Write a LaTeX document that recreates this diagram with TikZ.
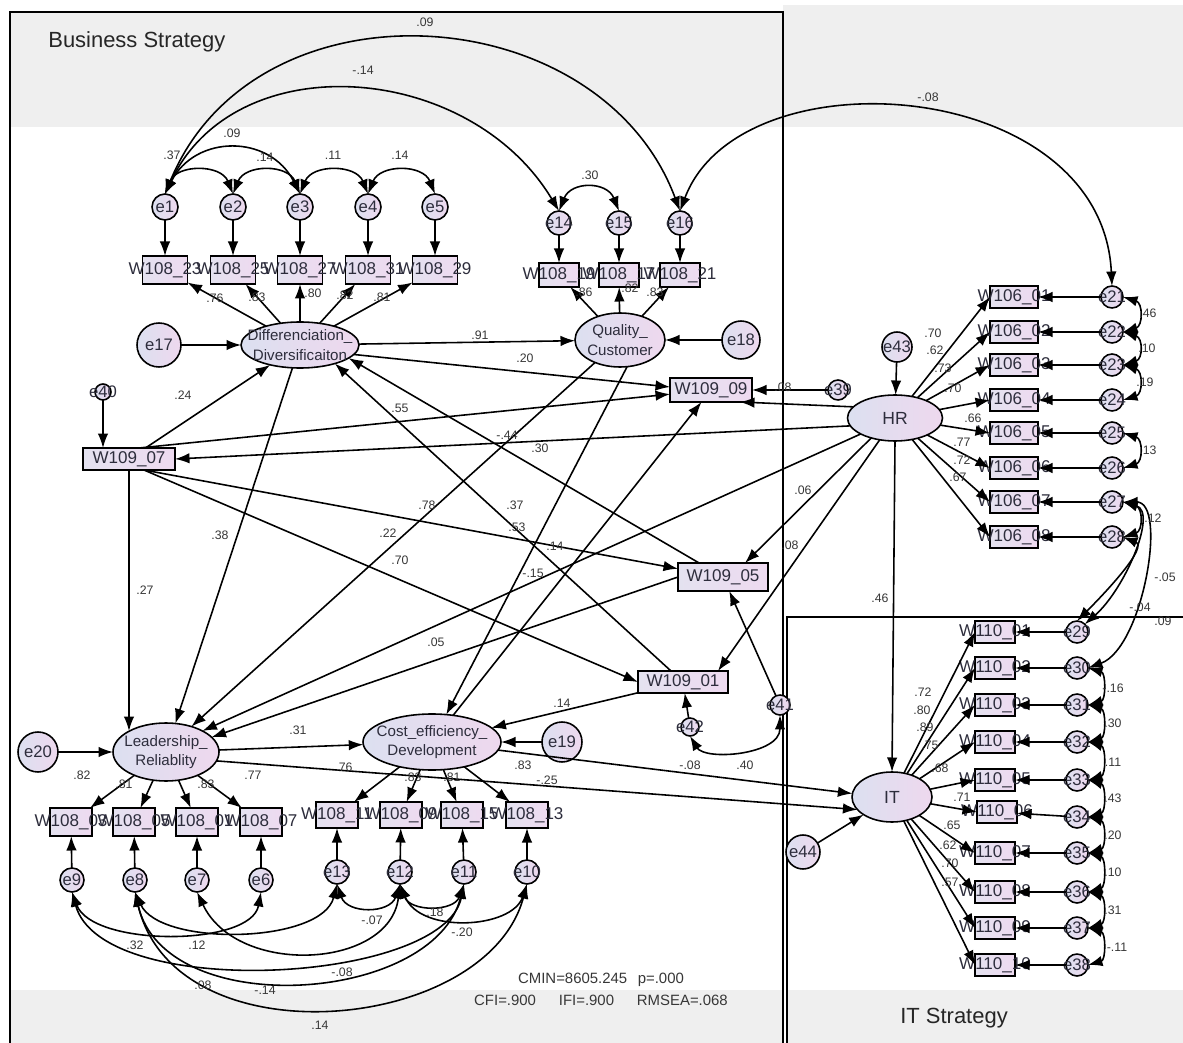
\documentclass[tikz,border=0pt]{standalone}
\usepackage{fontspec}
\setmainfont{Liberation Sans}
\setsansfont{Liberation Sans}
\usetikzlibrary{arrows.meta,shapes.geometric,calc}
\definecolor{bandgray}{RGB}{239,239,239}
\definecolor{latL}{RGB}{220,224,240}
\definecolor{latR}{RGB}{238,216,238}
\definecolor{boxL}{RGB}{228,226,240}
\definecolor{boxR}{RGB}{238,218,240}
\definecolor{txtc}{RGB}{45,45,60}
\definecolor{numc}{RGB}{55,55,55}
\tikzset{
  obs/.style={rectangle, draw=black, line width=0.9pt, left color=boxL, right color=boxR, inner sep=0pt, outer sep=0pt},
  lat/.style={ellipse, draw=black, line width=0.9pt, left color=latL, right color=latR, inner sep=0pt, outer sep=0pt},
  err/.style={circle, draw=black, line width=0.9pt, left color=latL, right color=latR, inner sep=0pt, outer sep=0pt},
  btxt/.style={font=\fontsize{9.7}{12}\selectfont, text=txtc, inner sep=0pt},
  ltxt/.style={font=\fontsize{8.6}{11}\selectfont, text=txtc, inner sep=0pt, align=center},
  etxt/.style={font=\fontsize{9.5}{11}\selectfont, text=txtc, inner sep=0pt},
  num/.style={font=\fontsize{7}{8}\selectfont, text=numc, inner sep=0pt},
  reg/.style={-{Latex[length=2.9mm,width=2.1mm]}, line width=0.9pt},
  cov/.style={{Latex[length=2.9mm,width=2.1mm]}-{Latex[length=2.9mm,width=2.1mm]}, line width=0.9pt},
  frameline/.style={line width=0.8pt, draw=black},
}
\newcommand\obsbox[6]{\node[obs, minimum width=#4*0.02cm, minimum height=#5*0.02cm, label={[btxt]center:#6}] (#1) at (#2,#3) {};}
\newcommand\errc[5]{\node[err, minimum size=#4*0.04cm, label={[etxt]center:#5}] (#1) at (#2,#3) {};}
\newcommand\latn[6]{\node[lat, minimum width=#4*0.02cm, minimum height=#5*0.02cm, label={[ltxt]center:#6}] (#1) at (#2,#3) {};}
\newcommand\mycoef[4]{\node[num] (#1) at (#2,#3) {#4};}
\begin{document}
\begin{tikzpicture}[x=0.02cm, y=-0.02cm]
\useasboundingbox (0,0) rectangle (1183,1043);
\fill[white] (0,0) rectangle (1183,1043);
% bands
\fill[bandgray] (10,12) rectangle (783,127);
\fill[bandgray] (783,5) rectangle (1183,127);
\fill[bandgray] (10,990) rectangle (783,1043);
\fill[bandgray] (787,990) rectangle (1183,1043);
% frames
\draw[frameline] (10,1043) -- (10,12) -- (783,12) -- (783,1043);
\draw[frameline] (787,1043) -- (787,617) -- (1183,617);
\node[anchor=west, font=\fontsize{12.5}{14}\selectfont, text=black!85, inner sep=0pt] (titleB) at (48,42) {Business Strategy};
\node[anchor=west, font=\fontsize{12.5}{14}\selectfont, text=black!85, inner sep=0pt] (titleI) at (900,1018) {IT Strategy};
\node[font=\fontsize{8.5}{10}\selectfont, text=numc, inner sep=0pt] (fit1) at (601,980) {CMIN=8605.245\hspace{6pt}p=.000};
\node[font=\fontsize{8.5}{10}\selectfont, text=numc, inner sep=0pt] (fit2) at (601,1000) {CFI=.900\hspace{13pt}IFI=.900\hspace{13pt}RMSEA=.068};

% latent variables
\latn{diff}{300}{345}{118}{46}{{Differenciation\_\\Diversificaiton}}
\latn{qual}{620}{340}{90}{54}{{Quality\_\\Customer}}
\latn{lead}{166}{752}{106}{58}{{Leadership\_\\Reliablity}}
\latn{cost}{432}{742}{138}{56}{{Cost\_efficiency\_\\Development}}
\node[lat, minimum width=95*0.02cm, minimum height=46*0.02cm, label={[ltxt,font=\fontsize{10}{12}\selectfont]center:HR}] (hr) at (895,418) {};
\node[lat, minimum width=80*0.02cm, minimum height=50*0.02cm, label={[ltxt,font=\fontsize{10}{12}\selectfont]center:IT}] (it) at (892,797) {};

% observed boxes
\obsbox{d1}{165}{270}{45}{28}{W108\_23}
\obsbox{d2}{233}{270}{45}{28}{W108\_25}
\obsbox{d3}{300}{270}{45}{28}{W108\_27}
\obsbox{d4}{368}{270}{45}{28}{W108\_31}
\obsbox{d5}{435}{270}{45}{28}{W108\_29}
\obsbox{q1}{559}{275}{40}{24}{W108\_19}
\obsbox{q2}{619}{275}{40}{24}{W108\_17}
\obsbox{q3}{680}{275}{40}{24}{W108\_21}
\obsbox{l1}{71}{822}{42}{28}{W108\_03}
\obsbox{l2}{134}{822}{42}{28}{W108\_05}
\obsbox{l3}{197}{822}{42}{28}{W108\_01}
\obsbox{l4}{261}{822}{42}{28}{W108\_07}
\obsbox{c1}{337}{815}{42}{26}{W108\_11}
\obsbox{c2}{401}{815}{42}{26}{W108\_09}
\obsbox{c3}{462}{815}{42}{26}{W108\_15}
\obsbox{c4}{527}{815}{42}{26}{W108\_13}
\obsbox{w0907}{129}{459}{92}{22}{W109\_07}
\obsbox{w0909}{711}{390}{82}{24}{W109\_09}
\obsbox{w0905}{723}{577}{90}{28}{W109\_05}
\obsbox{w0901}{683}{682}{90}{22}{W109\_01}
\obsbox{h1}{1014}{297}{48}{22}{W106\_01}
\obsbox{h2}{1014}{332}{48}{22}{W106\_02}
\obsbox{h3}{1014}{365}{48}{22}{W106\_03}
\obsbox{h4}{1014}{400}{48}{22}{W106\_04}
\obsbox{h5}{1014}{433}{48}{22}{W106\_05}
\obsbox{h6}{1014}{468}{48}{22}{W106\_06}
\obsbox{h7}{1014}{502}{48}{22}{W106\_07}
\obsbox{h8}{1014}{537}{48}{22}{W106\_08}
\obsbox{t1}{995}{632}{40}{22}{W110\_01}
\obsbox{t2}{995}{668}{40}{22}{W110\_02}
\obsbox{t3}{995}{705}{40}{22}{W110\_03}
\obsbox{t4}{995}{742}{40}{22}{W110\_04}
\obsbox{t5}{995}{780}{40}{22}{W110\_05}
\obsbox{t6}{997}{812}{40}{22}{W110\_06}
\obsbox{t7}{995}{853}{40}{22}{W110\_07}
\obsbox{t8}{995}{892}{40}{22}{W110\_08}
\obsbox{t9}{995}{928}{40}{22}{W110\_09}
\obsbox{t10}{995}{965}{40}{22}{W110\_10}

% error terms
\errc{e1}{165}{207}{13}{e1}
\errc{e2}{233}{207}{13}{e2}
\errc{e3}{300}{207}{13}{e3}
\errc{e4}{368}{207}{13}{e4}
\errc{e5}{435}{207}{13}{e5}
\errc{e14}{559}{223}{12}{e14}
\errc{e15}{619}{223}{12}{e15}
\errc{e16}{680}{223}{12}{e16}
\errc{e17}{159}{345}{22}{e17}
\errc{e18}{741}{340}{19}{e18}
\errc{e19}{562}{742}{20}{e19}
\errc{e20}{38}{752}{20}{e20}
\errc{e43}{897}{347}{15}{e43}
\errc{e44}{803}{852}{17}{e44}
\errc{e39}{838}{390}{10}{e39}
\errc{e40}{103}{392}{8}{e40}
\errc{e41}{780}{705}{10}{e41}
\errc{e42}{690}{727}{9}{e42}
\errc{e9}{72}{880}{12}{e9}
\errc{e8}{135}{880}{12}{e8}
\errc{e7}{197}{880}{12}{e7}
\errc{e6}{261}{880}{12}{e6}
\errc{e13}{337}{872}{12}{e13}
\errc{e12}{400}{872}{12}{e12}
\errc{e11}{464}{872}{12}{e11}
\errc{e10}{527}{872}{12}{e10}
\errc{e21}{1112}{297}{11}{e21}
\errc{e22}{1112}{332}{11}{e22}
\errc{e23}{1112}{365}{11}{e23}
\errc{e24}{1112}{400}{11}{e24}
\errc{e25}{1112}{433}{11}{e25}
\errc{e26}{1112}{468}{11}{e26}
\errc{e27}{1112}{502}{11}{e27}
\errc{e28}{1112}{537}{11}{e28}
\errc{e29}{1077}{632}{11}{e29}
\errc{e30}{1077}{668}{11}{e30}
\errc{e31}{1077}{705}{11}{e31}
\errc{e32}{1077}{742}{11}{e32}
\errc{e33}{1077}{780}{11}{e33}
\errc{e34}{1077}{817}{11}{e34}
\errc{e35}{1077}{853}{11}{e35}
\errc{e36}{1077}{892}{11}{e36}
\errc{e37}{1077}{928}{11}{e37}
\errc{e38}{1077}{965}{11}{e38}

% error -> indicator
\foreach \e/\b in {e1/d1,e2/d2,e3/d3,e4/d4,e5/d5,e14/q1,e15/q2,e16/q3,e9/l1,e8/l2,e7/l3,e6/l4,e13/c1,e12/c2,e11/c3,e10/c4}
  \draw[reg] (\e) -- (\b);
\foreach \i/\j in {1/21,2/22,3/23,4/24,5/25,6/26,7/27,8/28}
  \draw[reg] (e\j) -- (h\i);
\foreach \i/\j in {1/29,2/30,3/31,4/32,5/33,6/34,7/35,8/36,9/37,10/38}
  \draw[reg] (e\j) -- (t\i);
% loadings
\foreach \b in {d1,d2,d3,d4,d5} \draw[reg] (diff) -- (\b);
\foreach \b in {q1,q2,q3} \draw[reg] (qual) -- (\b);
\foreach \b in {l1,l2,l3,l4} \draw[reg] (lead) -- (\b);
\foreach \b in {c1,c2,c3,c4} \draw[reg] (cost) -- (\b);
\foreach \i in {1,...,8} \draw[reg] (hr) -- (h\i.west);
\foreach \i in {1,...,10} \draw[reg] (it) -- (t\i.west);
% disturbances
\draw[reg] (e17) -- (diff);
\draw[reg] (e18) -- (qual);
\draw[reg] (e19) -- (cost);
\draw[reg] (e20) -- (lead);
\draw[reg] (e43) -- (hr);
\draw[reg] (e44) -- (it);
\draw[reg] (e40) -- (e40 |- w0907.north);
\draw[reg] (e39) -- (w0909);
\draw[reg] (e41) -- (w0905);
\draw[reg] (e42) -- (w0901);
% structural paths
\draw[reg] (w0907) -- (diff);
\draw[reg] ([shift={(10,0)}]w0907.north) -- (w0909);
\draw[reg] (hr.190) -- (w0907.east);
\draw[reg] (w0907.south) -- ($(w0907.south |- lead.north)+(0,8)$);
\draw[reg] ([shift={(15,0)}]w0907.south) -- (w0905);
\draw[reg] ([shift={(15,0)}]w0907.south) -- (w0901.west);
\draw[reg] (diff) -- (qual);
\draw[reg] (diff.-10) -- ([shift={(0,-3)}]w0909.west);
\draw[reg] (diff) -- (lead);
\draw[reg] (qual) -- (lead.45);
\draw[reg] (qual.-75) -- (cost);
\draw[reg] (cost) -- (w0909);
\draw[reg] (w0905) -- (diff.-15);
\draw[reg] (w0901) -- (diff.-28);
\draw[reg] (w0905.west) -- (lead.18);
\draw[reg] (hr.205) -- (lead.30);
\draw[reg] (w0901) -- (cost);
\draw[reg] (lead) -- (cost);
\draw[reg] (lead.-10) -- (it.200);
\draw[reg] (cost) -- (it.175);
\draw[reg] (hr.220) -- ([shift={(22,0)}]w0905.north);
\draw[reg] (hr.235) -- ([shift={(35,0)}]w0901.north);
\draw[reg] (hr.south) -- (it.north);
\draw[reg] (hr.165) -- ([shift={(-12,0)}]w0909.south east);

% covariances top
\draw[cov] (e1.north) .. controls +(12,-30) and +(-12,-30) .. (e2.north);
\draw[cov] (e2.north) .. controls +(12,-30) and +(-12,-30) .. (e3.north);
\draw[cov] (e3.north) .. controls +(12,-30) and +(-12,-30) .. (e4.north);
\draw[cov] (e4.north) .. controls +(12,-30) and +(-12,-30) .. (e5.north);
\draw[cov] (e1.north) .. controls +(30,-60) and +(-30,-60) .. (e3.north);
\draw[cov] (e1.north) .. controls +(70,-150) and +(-90,-150) .. (e14.north);
\draw[cov] (e1.north) .. controls +(90,-220) and +(-80,-215) .. (e16.north);
\draw[cov] (e14.north) .. controls +(12,-30) and +(-12,-30) .. (e15.north);
\draw[cov] (e16.north) .. controls +(60,-160) and +(-10,-210) .. (e21.north);
% covariances HR
\foreach \a/\b in {e21/e22,e22/e23,e23/e24,e25/e26,e27/e28}
  \draw[cov] (\a.east) .. controls +(20,6) and +(20,-6) .. (\b.east);
\draw[cov] (e27.east) .. controls +(45,0) and +(55,-20) .. (e30.east);
\draw[cov] (e27.east) .. controls +(35,10) and +(40,-35) .. (e29.north east);
\draw[cov] (e28.east) .. controls +(25,10) and +(30,-30) .. (e29.north);
% covariances IT
\foreach \a/\b in {e30/e31,e31/e32,e32/e33,e33/e34,e34/e35,e35/e36,e36/e37,e37/e38}
  \draw[cov] (\a.east) .. controls +(18,5) and +(18,-5) .. (\b.east);
% covariances bottom
\draw[cov] (e9.south) .. controls +(20,55) and +(-10,55) .. (e6.south);
\draw[cov] (e8.south) .. controls +(25,55) and +(-15,60) .. (e13.south);
\draw[cov] (e7.south) .. controls +(40,85) and +(-10,85) .. (e12.south);
\draw[cov] (e9.south) .. controls +(30,110) and +(-20,100) .. (e11.south);
\draw[cov] (e8.south) .. controls +(30,130) and +(-30,120) .. (e11.south);
\draw[cov] (e8.south) .. controls +(40,170) and +(-40,150) .. (e10.south);
\draw[cov] (e13.south) .. controls +(10,30) and +(-10,30) .. (e12.south);
\draw[cov] (e12.south) .. controls +(10,28) and +(-10,28) .. (e11.south);
\draw[cov] (e12.south) .. controls +(20,50) and +(-15,45) .. (e10.south);
\draw[cov] (e42.south) .. controls +(15,25) and +(0,40) .. (e41.south);

% coefficient labels
\mycoef{n1}{425}{22}{.09}
\mycoef{n2}{363}{70}{-.14}
\mycoef{n3}{928}{97}{-.08}
\mycoef{n4}{232}{133}{.09}
\mycoef{n5}{172}{155}{.37}
\mycoef{n6}{265}{157}{.14}
\mycoef{n7}{333}{155}{.11}
\mycoef{n8}{400}{155}{.14}
\mycoef{n9}{590}{175}{.30}
\mycoef{n10}{215}{298}{.76}
\mycoef{n11}{257}{297}{.83}
\mycoef{n12}{313}{293}{.80}
\mycoef{n13}{345}{295}{.82}
\mycoef{n14}{382}{297}{.81}
\mycoef{n15}{584}{292}{.86}
\mycoef{n16}{630}{288}{.82}
\mycoef{n17}{655}{292}{.83}
\mycoef{n18}{480}{335}{.91}
\mycoef{n19}{525}{358}{.20}
\mycoef{n20}{183}{395}{.24}
\mycoef{n21}{400}{408}{.55}
\mycoef{n22}{507}{435}{-.44}
\mycoef{n23}{540}{448}{.30}
\mycoef{n24}{783}{387}{.08}
\mycoef{n25}{427}{505}{.78}
\mycoef{n26}{515}{505}{.37}
\mycoef{n27}{517}{527}{.53}
\mycoef{n28}{388}{533}{.22}
\mycoef{n29}{220}{535}{.38}
\mycoef{n30}{555}{546}{.14}
\mycoef{n31}{400}{560}{.70}
\mycoef{n32}{533}{573}{-.15}
\mycoef{n33}{145}{590}{.27}
\mycoef{n34}{803}{490}{.06}
\mycoef{n35}{790}{545}{.08}
\mycoef{n36}{880}{598}{.46}
\mycoef{n37}{436}{642}{.05}
\mycoef{n38}{562}{703}{.14}
\mycoef{n39}{298}{730}{.31}
\mycoef{n40}{82}{775}{.82}
\mycoef{n41}{124}{784}{.81}
\mycoef{n42}{206}{784}{.83}
\mycoef{n43}{253}{775}{.77}
\mycoef{n44}{344}{767}{.76}
\mycoef{n45}{413}{777}{.83}
\mycoef{n46}{452}{777}{.81}
\mycoef{n47}{523}{765}{.83}
\mycoef{n48}{547}{780}{-.25}
\mycoef{n49}{690}{765}{-.08}
\mycoef{n50}{745}{765}{.40}
\mycoef{n51}{372}{920}{-.07}
\mycoef{n52}{435}{912}{.18}
\mycoef{n53}{462}{932}{-.20}
\mycoef{n54}{135}{945}{.32}
\mycoef{n55}{197}{945}{.12}
\mycoef{n56}{342}{972}{-.08}
\mycoef{n57}{203}{985}{.08}
\mycoef{n58}{265}{990}{-.14}
\mycoef{n59}{320}{1025}{.14}
% HR loadings
\mycoef{h1l}{933}{333}{.70}
\mycoef{h2l}{935}{350}{.62}
\mycoef{h3l}{943}{368}{.73}
\mycoef{h4l}{953}{388}{.70}
\mycoef{h5l}{973}{418}{.66}
\mycoef{h6l}{962}{442}{.77}
\mycoef{h7l}{962}{460}{.72}
\mycoef{h8l}{958}{477}{.67}
% HR covariances
\mycoef{hc1}{1148}{313}{.46}
\mycoef{hc2}{1147}{348}{.10}
\mycoef{hc3}{1145}{382}{.19}
\mycoef{hc4}{1148}{450}{.13}
\mycoef{hc5}{1153}{518}{.12}
\mycoef{hc6}{1165}{577}{-.05}
\mycoef{hc7}{1140}{607}{-.04}
\mycoef{hc8}{1163}{621}{.09}
% IT loadings
\mycoef{t1l}{923}{692}{.72}
\mycoef{t2l}{922}{710}{.80}
\mycoef{t3l}{925}{727}{.89}
\mycoef{t4l}{930}{745}{.75}
\mycoef{t5l}{940}{768}{.68}
\mycoef{t6l}{962}{797}{.71}
\mycoef{t7l}{952}{825}{.65}
\mycoef{t8l}{948}{845}{.62}
\mycoef{t9l}{950}{863}{.70}
\mycoef{t10l}{950}{882}{.57}
% IT covariances
\mycoef{tc1}{1113}{688}{-.16}
\mycoef{tc2}{1113}{723}{.30}
\mycoef{tc3}{1113}{762}{.11}
\mycoef{tc4}{1113}{798}{.43}
\mycoef{tc5}{1113}{835}{.20}
\mycoef{tc6}{1113}{872}{.10}
\mycoef{tc7}{1113}{910}{.31}
\mycoef{tc8}{1117}{947}{-.11}
\end{tikzpicture}
\end{document}
